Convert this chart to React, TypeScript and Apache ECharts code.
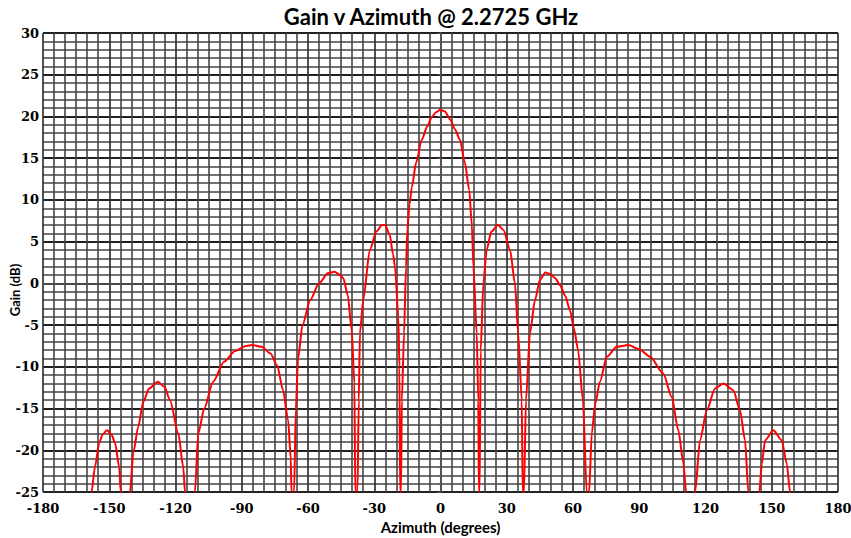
import React, { useEffect, useRef } from "react";
import * as echarts from "echarts";

const TITLE = "Gain v Azimuth @ 2.2725 GHz";
const X_NAME = "Azimuth (degrees)";
const Y_NAME = "Gain (dB)";

const azimuth = [
  -160, -158, -156.5, -154.5, -153, -151, -149, -147.4, -145.5, -144.8, -142.5,
  -140.6, -139.1, -136.9, -134.6, -132, -128, -125, -122.5, -118.7, -116.5, -115.7, -113,
  -111.2, -109.7, -107, -103, -98, -93, -88, -85, -81, -77, -74, -71.3, -69, -67.8, -67.5, -67,
  -66.3, -65.5, -64.5, -62.5, -59, -55, -51, -48, -45.5, -44, -42, -40.2, -39, -38.6, -38.2,
  -37.6, -37, -36.5, -35, -32, -29, -26.5, -25, -23, -21.5, -20.6, -19.1, -18.6, -18.3, -18.1,
  -17.9, -17.5, -16.5, -15.6, -15, -14, -13, -11, -8.5, -6, -4, -2, 0, 2, 4.5, 6.5, 8.8, 11, 13, 14.2, 14.9, 16.4, 17.1, 17.4, 17.55,
  17.7, 18.2, 19.4, 20.9, 23, 26, 28.5, 31.5, 33.7, 35.2, 36.8, 37.2, 37.5,
  37.8, 38.7, 40.5, 42.8, 45, 47.5, 50, 52, 54.1, 56.5, 58.6, 60.5, 62.3, 64.5, 66.2, 66.8,
  67.3, 68.5, 70, 72.2, 75.3, 79.8, 85, 90, 94.9, 100.9, 104.7, 107.7, 110, 111.2, 113,
  115.3, 117.5, 120.6, 124.3, 128.1, 132.6, 135.6, 137.9, 139.4, 142,
  144.4, 145.5, 147, 150.7, 154.5, 156.8, 158.3, 160,
];

const gain = [
  -40, -25, -22, -19.1, -18.1, -17.6, -18.1, -19.1, -22, -25, -40,
  -25, -20.3, -17.2, -14.2, -12.6, -11.8, -12.4, -14, -18, -22, -25, -40,
  -25, -18, -15, -11.8, -9.4, -8.1, -7.5, -7.4, -7.6, -8.4, -9.8, -12.8, -16.4, -21, -25, -40,
  -25, -15, -9, -5, -2, 0, 1.2, 1.4, 1.0, 0.6, -1.4, -5.6, -12, -25, -40,
  -25, -14, -6, -2, 4, 6.2, 7.0, 7.0, 5.8, 3.5, 2, -4, -10, -25, -40,
  -25, -14, -6, 2, 6.5, 9.5, 11.5, 14.5, 17.2, 18.8, 19.9, 20.5, 20.8, 20.6, 19.6, 18.5, 17.2, 14.5, 11.2, 7, 2, -6, -14, -25, -40,
  -25, -8, 0, 4, 6.2, 7.0, 6.4, 4, 0, -6, -14, -25, -40,
  -25, -14, -6, -2, 0.4, 1.3, 1.1, 0.6, -0.2, -1.5, -3.2, -5.5, -8, -14, -25, -40,
  -25, -18, -14.5, -11.8, -8.8, -7.6, -7.4, -7.9, -8.8, -10.8, -13.6, -17.6, -21.6, -25, -40,
  -25, -18.8, -15.2, -12.6, -12, -12.8, -15.2, -18.8, -25, -40,
  -25, -21.6, -18.8, -17.6, -18.8, -21.6, -25, -40,
];

const xTicks = [-180, -150, -120, -90, -60, -30, 0, 30, 60, 90, 120, 150, 180];
const yTicks = [-25, -20, -15, -10, -5, 0, 5, 10, 15, 20, 25, 30];

export default function App() {
  const ref = useRef<HTMLDivElement>(null);
  useEffect(() => {
    if (!ref.current) return;
    const chart = echarts.init(ref.current, undefined, { renderer: "svg" });
    const data = azimuth.map((a, i) => [a, gain[i]]);
    const labelFont = {
      fontFamily: "DejaVu Serif",
      fontWeight: "bold" as const,
      fontSize: 13,
      color: "#000",
    };
    chart.setOption({
      animation: false,
      backgroundColor: "#fff",
      title: {
        text: TITLE,
        left: 426,
        top: 0,
        textAlign: "center",
        textStyle: { fontFamily: "Lato", fontWeight: "bold", fontSize: 22, color: "#000" },
      },
      graphic: [
        {
          type: "text",
          x: 15,
          y: 290,
          rotation: Math.PI / 2,
          style: {
            text: Y_NAME,
            fill: "#000",
            font: "bold 13px Lato",
            align: "center",
            verticalAlign: "middle",
          },
        },
      ],
      grid: { left: 43, right: 13, top: 33, bottom: 46, containLabel: false, outerBoundsMode: "none" },
      xAxis: {
        type: "value",
        min: xTicks[0],
        max: xTicks[xTicks.length - 1],
        interval: 30,
        name: X_NAME,
        nameLocation: "middle",
        nameGap: 26,
        nameTextStyle: { fontFamily: "Lato", fontWeight: "bold", fontSize: 15, color: "#000" },
        axisLine: { show: true, lineStyle: { color: "#555", width: 1.5 } },
        axisTick: { show: false },
        axisLabel: { ...labelFont, margin: 10 },
        splitLine: { show: true, lineStyle: { color: "#333", width: 1.7 } },
        minorTick: { show: false, splitNumber: 6 },
        minorSplitLine: { show: true, lineStyle: { color: "#444", width: 1.6 } },
      },
      yAxis: {
        type: "value",
        min: yTicks[0],
        max: yTicks[yTicks.length - 1],
        interval: 5,
        axisLine: { show: true, lineStyle: { color: "#555", width: 1.5 } },
        axisTick: { show: true, length: 3, lineStyle: { color: "#555" } },
        axisLabel: { ...labelFont, margin: 4 },
        splitLine: { show: true, lineStyle: { color: "#222", width: 2.1 } },
        minorTick: { show: true, splitNumber: 5, length: 2, lineStyle: { color: "#555" } },
        minorSplitLine: { show: true, lineStyle: { color: "#444", width: 1.6 } },
      },
      series: [
        {
          type: "line",
          data,
          showSymbol: false,
          smooth: 0.25,
          smoothMonotone: "x",
          clip: true,
          lineStyle: { color: "#ff0000", width: 2 },
          z: 5,
        },
      ],
    });
    return () => chart.dispose();
  }, []);
  return (
    <div
      ref={ref}
      style={{ position: "absolute", left: 0, top: 0, width: 851, height: 538 }}
    />
  );
}
